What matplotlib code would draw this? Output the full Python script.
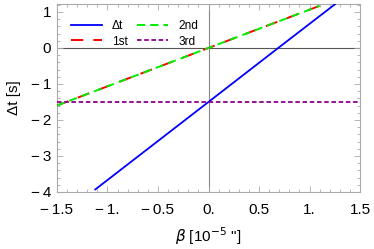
import numpy as np
import matplotlib.pyplot as plt
from matplotlib.ticker import MultipleLocator, FuncFormatter

plt.rcParams['font.family'] = ['Liberation Sans', 'DejaVu Sans']

# Data (beta in 1e-5 arcsec, dt in s)
beta_dt = [-1.12, 0.0, 0.69, 1.25]
dt_exact = [-3.93, -1.5, 0.0, 1.21]
beta_ord = [-1.5, 0.0, 1.1]
dt_first = [-1.60, 0.0, 1.17]
dt_second = [-1.60, 0.0, 1.17]
beta_third = [-1.5, 1.5]
dt_third = [-1.51, -1.51]

fig = plt.figure(figsize=(3.74, 2.49), dpi=100)
ax = fig.add_axes([0.152, 0.229, 0.811, 0.755])

# Axes through origin
ax.axhline(0, color='#555555', lw=0.8, zorder=1)
ax.axvline(0, color='#888888', lw=0.8, zorder=1)

ax.plot(beta_dt, dt_exact, color='#0000ff', lw=1.3, label='Δt', zorder=3)
ax.plot(beta_ord, dt_first, color='#ff0000', lw=1.4, dashes=(6.3, 5.2), label='1st', zorder=3)
ax.plot(beta_ord, dt_second, color='#00ee00', lw=1.4, dashes=(4.2, 2.6), label='2nd', zorder=4)
ax.plot(beta_third, dt_third, color='#8b008b', lw=1.3, dashes=(2.5, 1.5), label='3rd', zorder=3)

ax.set_xlim(-1.5, 1.5)
ax.set_ylim(-4, 1.22)

def fmt(v, pos):
    if abs(v - round(v)) < 1e-9:
        s = '%d.' % round(v)
    else:
        s = '%g' % v
    return s.replace('-', '\u2212\u2009')

ax.xaxis.set_major_locator(MultipleLocator(0.5))
ax.xaxis.set_minor_locator(MultipleLocator(0.1))
ax.yaxis.set_major_locator(MultipleLocator(1))
ax.yaxis.set_minor_locator(MultipleLocator(0.2))
ax.xaxis.set_major_formatter(FuncFormatter(fmt))
ax.yaxis.set_major_formatter(FuncFormatter(lambda v, p: ('%d' % round(v)).replace('-', '\u2212\u2009')))

for s in ax.spines.values():
    s.set_color('#aaaaaa')
    s.set_linewidth(0.8)
ax.tick_params(which='both', direction='in', top=True, right=True, color='#aaaaaa',
               labelsize=11, labelcolor='black', width=0.6)
ax.tick_params(which='major', length=4)
ax.tick_params(which='minor', length=2)
ax.tick_params(axis='x', pad=8)
ax.tick_params(axis='y', pad=4)

ax.set_xlabel(r'$\beta$ [10$^{-5}$ "]', fontsize=11, labelpad=6)
ax.set_ylabel('Δt [s]', fontsize=11, labelpad=7)

ax.legend(ncol=2, loc='upper left', frameon=False, fontsize=8.6,
          handlelength=2.6, columnspacing=0.8, handletextpad=0.85,
          borderpad=0, borderaxespad=0,
          bbox_to_anchor=(0.046, 0.915), labelspacing=0.3)

fig.savefig('out.png', dpi=100)
